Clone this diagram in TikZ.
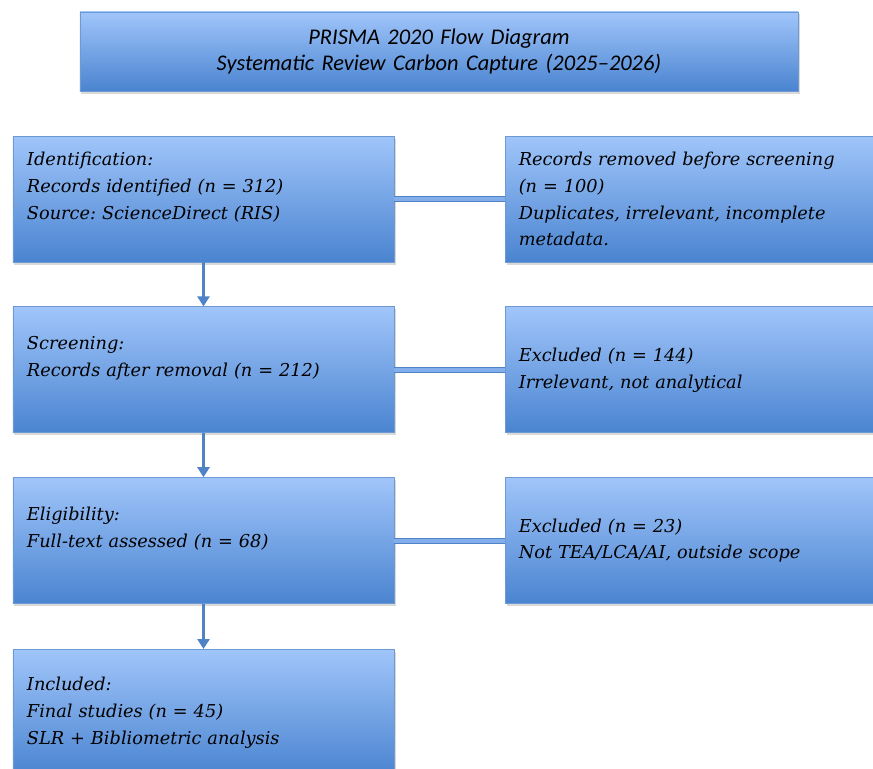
\documentclass[tikz,border=0pt]{standalone}
\usepackage{fontspec}
\setmainfont{DejaVu Serif}
\newfontfamily\titlefont{Carlito}
\usetikzlibrary{positioning,shadows,arrows.meta}
\frenchspacing
\definecolor{boxtop}{HTML}{A0C5FA}
\definecolor{boxbot}{HTML}{4A84D0}
\definecolor{boxline}{HTML}{6E9AD4}
\definecolor{linkdark}{HTML}{4F82C6}
\definecolor{linklight}{HTML}{82AEEC}
\tikzset{
stage/.style={rectangle,draw=boxline,line width=0.8bp,top color=boxtop,bottom color=boxbot,
  minimum width=381bp,minimum height=126bp,inner xsep=14bp,text width=353bp,align=left,
  font=\fontsize{17.8}{27}\selectfont\itshape,
  drop shadow={shadow xshift=1.5bp,shadow yshift=-2.5bp,opacity=0.3}},
side/.style={stage,minimum width=370bp,inner xsep=13bp,text width=344bp},
flow/.style={draw=linkdark,line width=3.8bp,-{Triangle[length=10bp,width=12bp]}},
link/.style={draw=linkdark,line width=1bp,double=linklight,double distance=4bp}
}
\begin{document}
\begin{tikzpicture}[x=1bp,y=-1bp]
\useasboundingbox (0,0) rectangle (873,769);
\node[stage,minimum width=712bp,minimum height=79bp,text width=690bp,align=center,
  font=\titlefont\fontsize{22.5}{27}\selectfont\itshape](title) at (439,51.5)
  {PRISMA 2020 Flow Diagram\\Systematic Review Carbon Capture (2025–2026)};
\node[stage](ident) at (203.5,199)
  {Identification:\\Records identified (n = 312)\\Source: ScienceDirect (RIS)\\~};
\node[stage,below=44bp of ident](screen)
  {Screening:\\Records after removal (n = 212)\\~};
\node[stage,below=44bp of screen](elig)
  {Eligibility:\\Full-text assessed (n = 68)\\~};
\node[stage,below=45bp of elig](incl)
  {Included:\\Final studies (n = 45)\\SLR + Bibliometric analysis};
\node[side,right=111bp of ident](removed)
  {Records removed before screening\\(n = 100)\\Duplicates, irrelevant, incomplete\\metadata.};
\node[side,right=111bp of screen](excl1)
  {Excluded (n = 144)\\Irrelevant, not analytical};
\node[side,right=111bp of elig](excl2)
  {Excluded (n = 23)\\Not TEA/LCA/AI, outside scope};
\draw[flow] (ident) -- (screen);
\draw[flow] (screen) -- (elig);
\draw[flow] (elig) -- (incl);
\draw[link] (ident) -- (removed);
\draw[link] (screen) -- (excl1);
\draw[link] (elig) -- (excl2);
\end{tikzpicture}
\end{document}
